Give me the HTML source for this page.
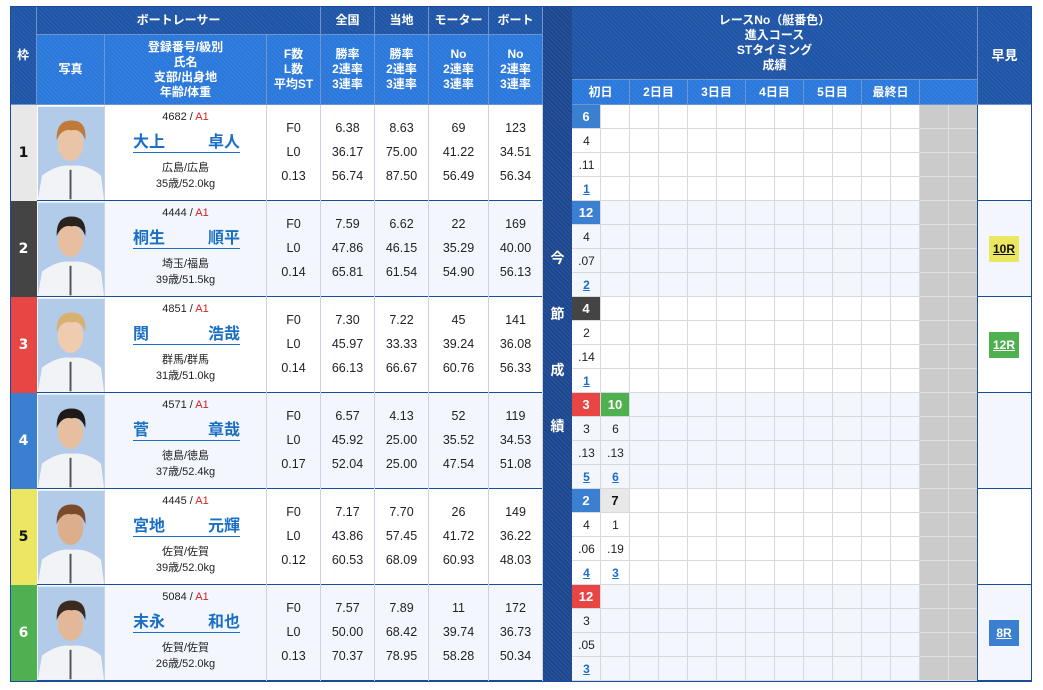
<!DOCTYPE html>
<html><head><meta charset="utf-8">
<style>
*{margin:0;padding:0;box-sizing:border-box}
body{width:1043px;height:690px;background:#fff;position:relative;overflow:hidden;font-family:"Liberation Sans","Noto Sans CJK JP",sans-serif;color:#222}
.a{position:absolute}
.hd{position:absolute;background:#1f55a6;background-image:repeating-linear-gradient(45deg,rgba(255,255,255,.06) 0 1px,transparent 1px 3px);color:#fff;font-weight:bold;font-size:12px;display:flex;align-items:center;justify-content:center;text-align:center;line-height:15px;border-right:1px solid #6f95cf;border-bottom:1px solid #6f95cf}
.hb{background-color:#2b78dc}
.row{position:absolute;left:10px;width:1022px;height:96px;border-bottom:1.5px solid #1b4c9a}
.w{position:absolute;top:0;height:96px;display:flex;align-items:center;justify-content:center;font-weight:bold;font-size:14px;font-family:"DejaVu Sans","Liberation Sans",sans-serif}
.st{position:absolute;top:0;height:96px;border-right:1px solid #c9d3e3;font-size:12.5px;text-align:center;padding-top:11px;line-height:24px}
.nm{position:absolute;top:0;left:95px;width:162px;height:96px;border-right:1px solid #c9d3e3;text-align:center}
.nm .n1{position:absolute;top:6px;width:100%;font-size:11px}
.nm .n2{position:absolute;top:28px;left:28px;width:107px;display:flex;justify-content:space-between;font-size:16px;font-weight:bold;color:#1a6fc4;line-height:19px;border-bottom:1.5px solid #1a6fc4}
.nm .n3{position:absolute;top:55px;width:100%;font-size:11px;line-height:16px}
.r{color:#d02020}
.grid{position:absolute;left:562px;top:0;width:406px;height:96px;background-image:repeating-linear-gradient(90deg,transparent 0 28px,#d6d9de 28px 29px),repeating-linear-gradient(180deg,transparent 0 23px,#d6d9de 23px 24px)}
.gr{position:absolute;left:910px;top:0;width:58px;height:96px;background:#cbcbcb;background-image:linear-gradient(90deg,transparent 28px,#e0e0e0 28px 29px,transparent 29px),repeating-linear-gradient(180deg,transparent 0 23px,#e0e0e0 23px 24px)}
.c{position:absolute;width:29px;height:24px;line-height:24px;text-align:center;font-size:12px}
.b{color:#fff;font-weight:bold;font-size:13px}
.lk{color:#1a6fc4;font-weight:bold;text-decoration:underline}
.hy{position:absolute;left:979px;top:35px;width:30px;height:26px;line-height:26px;text-align:center;font-size:12px;font-weight:bold;text-decoration:underline}
.ph{position:absolute;left:28px;top:1px;width:67px;height:94px;border-right:1px solid #c9d3e3}
</style></head><body>
<div class="hd" style="left:10px;top:6px;width:27px;height:99px">枠</div>
<div class="hd" style="left:37px;top:6px;width:284px;height:29px">ボートレーサー</div>
<div class="hd" style="left:321px;top:6px;width:54px;height:29px">全国</div>
<div class="hd" style="left:375px;top:6px;width:54px;height:29px">当地</div>
<div class="hd" style="left:429px;top:6px;width:60px;height:29px">モーター</div>
<div class="hd" style="left:489px;top:6px;width:54px;height:29px">ボート</div>
<div class="hd hb" style="left:37px;top:35px;width:68px;height:70px">写真</div>
<div class="hd hb" style="left:105px;top:35px;width:162px;height:70px">登録番号/級別<br>氏名<br>支部/出身地<br>年齢/体重</div>
<div class="hd hb" style="left:267px;top:35px;width:54px;height:70px">F数<br>L数<br>平均ST</div>
<div class="hd hb" style="left:321px;top:35px;width:54px;height:70px">勝率<br>2連率<br>3連率</div>
<div class="hd hb" style="left:375px;top:35px;width:54px;height:70px">勝率<br>2連率<br>3連率</div>
<div class="hd hb" style="left:429px;top:35px;width:60px;height:70px">No<br>2連率<br>3連率</div>
<div class="hd hb" style="left:489px;top:35px;width:54px;height:70px">No<br>2連率<br>3連率</div>
<div class="hd" style="left:572px;top:6px;width:406px;height:74px">レースNo（艇番色）<br>進入コース<br>STタイミング<br>成績</div>
<div class="hd hb" style="left:572px;top:80px;width:58px;height:25px">初日</div>
<div class="hd hb" style="left:630px;top:80px;width:58px;height:25px">2日目</div>
<div class="hd hb" style="left:688px;top:80px;width:58px;height:25px">3日目</div>
<div class="hd hb" style="left:746px;top:80px;width:58px;height:25px">4日目</div>
<div class="hd hb" style="left:804px;top:80px;width:58px;height:25px">5日目</div>
<div class="hd hb" style="left:862px;top:80px;width:58px;height:25px">最終日</div>
<div class="hd hb" style="left:920px;top:80px;width:58px;height:25px"></div>
<div class="hd" style="left:978px;top:6px;width:54px;height:99px;font-size:13px">早見</div>

<div class="row" style="top:105px;background:#fff">
 <div class="w" style="left:0;width:27px;background:#e8e8e8;color:#111">1</div>
 <svg class="ph" viewBox="0 0 67 94"><rect width="67" height="94" fill="#b2cbe9"/><path d="M0 94 L4 70 Q20 58 34 60 Q50 58 64 70 L67 94Z" fill="#f2f3f6"/><ellipse cx="33" cy="38" rx="13" ry="17" fill="#eac4a6"/><path d="M19 34 Q18 14 34 14 Q50 14 48 34 Q44 22 34 24 Q24 22 19 34Z" fill="#c07a3a"/><path d="M33 64 L33 94" stroke="#555" stroke-width="2"/></svg>
 <div class="nm"><div class="n1">4682 / <span class="r">A1</span></div><div class="n2"><span>大上</span><span>卓人</span></div><div class="n3">広島/広島<br>35歳/52.0kg</div></div>
 <div class="st" style="left:257px;width:54px">F0<br>L0<br>0.13</div>
 <div class="st" style="left:311px;width:54px">6.38<br>36.17<br>56.74</div>
 <div class="st" style="left:365px;width:54px">8.63<br>75.00<br>87.50</div>
 <div class="st" style="left:419px;width:60px">69<br>41.22<br>56.49</div>
 <div class="st" style="left:479px;width:54px">123<br>34.51<br>56.34</div>
 <div class="grid"></div><div class="gr"></div>
 <div class="c b" style="left:562px;top:0;width:28px;height:23px;background:#3b7fd0">6</div>
 <div class="c" style="left:562px;top:24px">4</div><div class="c" style="left:562px;top:48px">.11</div><div class="c lk" style="left:562px;top:72px">1</div>
</div>

<div class="row" style="top:201px;background:#f3f7fd">
 <div class="w" style="left:0;width:27px;background:#444;color:#fff">2</div>
 <svg class="ph" viewBox="0 0 67 94"><rect width="67" height="94" fill="#b2cbe9"/><path d="M0 94 L4 70 Q20 58 34 60 Q50 58 64 70 L67 94Z" fill="#f2f3f6"/><ellipse cx="33" cy="38" rx="13" ry="17" fill="#e6bfa0"/><path d="M19 34 Q18 14 34 14 Q50 14 48 34 Q44 22 34 24 Q24 22 19 34Z" fill="#2a221e"/><path d="M33 64 L33 94" stroke="#555" stroke-width="2"/></svg>
 <div class="nm"><div class="n1">4444 / <span class="r">A1</span></div><div class="n2"><span>桐生</span><span>順平</span></div><div class="n3">埼玉/福島<br>39歳/51.5kg</div></div>
 <div class="st" style="left:257px;width:54px">F0<br>L0<br>0.14</div>
 <div class="st" style="left:311px;width:54px">7.59<br>47.86<br>65.81</div>
 <div class="st" style="left:365px;width:54px">6.62<br>46.15<br>61.54</div>
 <div class="st" style="left:419px;width:60px">22<br>35.29<br>54.90</div>
 <div class="st" style="left:479px;width:54px">169<br>40.00<br>56.13</div>
 <div class="grid"></div><div class="gr"></div>
 <div class="c b" style="left:562px;top:0;width:28px;height:23px;background:#3b7fd0">12</div>
 <div class="c" style="left:562px;top:24px">4</div><div class="c" style="left:562px;top:48px">.07</div><div class="c lk" style="left:562px;top:72px">2</div>
 <div class="hy" style="background:#ebe760;color:#111">10R</div>
</div>

<div class="row" style="top:297px;background:#fff">
 <div class="w" style="left:0;width:27px;background:#e84545;color:#fff">3</div>
 <svg class="ph" viewBox="0 0 67 94"><rect width="67" height="94" fill="#b2cbe9"/><path d="M0 94 L4 70 Q20 58 34 60 Q50 58 64 70 L67 94Z" fill="#f2f3f6"/><ellipse cx="33" cy="38" rx="13" ry="17" fill="#efcbb0"/><path d="M19 34 Q18 14 34 14 Q50 14 48 34 Q44 22 34 24 Q24 22 19 34Z" fill="#d8b070"/><path d="M33 64 L33 94" stroke="#555" stroke-width="2"/></svg>
 <div class="nm"><div class="n1">4851 / <span class="r">A1</span></div><div class="n2"><span>関</span><span>浩哉</span></div><div class="n3">群馬/群馬<br>31歳/51.0kg</div></div>
 <div class="st" style="left:257px;width:54px">F0<br>L0<br>0.14</div>
 <div class="st" style="left:311px;width:54px">7.30<br>45.97<br>66.13</div>
 <div class="st" style="left:365px;width:54px">7.22<br>33.33<br>66.67</div>
 <div class="st" style="left:419px;width:60px">45<br>39.24<br>60.76</div>
 <div class="st" style="left:479px;width:54px">141<br>36.08<br>56.33</div>
 <div class="grid"></div><div class="gr"></div>
 <div class="c b" style="left:562px;top:0;width:28px;height:23px;background:#444">4</div>
 <div class="c" style="left:562px;top:24px">2</div><div class="c" style="left:562px;top:48px">.14</div><div class="c lk" style="left:562px;top:72px">1</div>
 <div class="hy" style="background:#4fb04f;color:#fff">12R</div>
</div>

<div class="row" style="top:393px;background:#f3f7fd">
 <div class="w" style="left:0;width:27px;background:#3b7fd0;color:#fff">4</div>
 <svg class="ph" viewBox="0 0 67 94"><rect width="67" height="94" fill="#b2cbe9"/><path d="M0 94 L4 70 Q20 58 34 60 Q50 58 64 70 L67 94Z" fill="#f2f3f6"/><ellipse cx="33" cy="38" rx="13" ry="17" fill="#e6bfa0"/><path d="M19 34 Q18 14 34 14 Q50 14 48 34 Q44 22 34 24 Q24 22 19 34Z" fill="#1e1a18"/><path d="M33 64 L33 94" stroke="#555" stroke-width="2"/></svg>
 <div class="nm"><div class="n1">4571 / <span class="r">A1</span></div><div class="n2"><span>菅</span><span>章哉</span></div><div class="n3">徳島/徳島<br>37歳/52.4kg</div></div>
 <div class="st" style="left:257px;width:54px">F0<br>L0<br>0.17</div>
 <div class="st" style="left:311px;width:54px">6.57<br>45.92<br>52.04</div>
 <div class="st" style="left:365px;width:54px">4.13<br>25.00<br>25.00</div>
 <div class="st" style="left:419px;width:60px">52<br>35.52<br>47.54</div>
 <div class="st" style="left:479px;width:54px">119<br>34.53<br>51.08</div>
 <div class="grid"></div><div class="gr"></div>
 <div class="c b" style="left:562px;top:0;width:28px;height:23px;background:#e84545">3</div>
 <div class="c" style="left:562px;top:24px">3</div><div class="c" style="left:562px;top:48px">.13</div><div class="c lk" style="left:562px;top:72px">5</div>
 <div class="c b" style="left:591px;top:0;width:28px;height:23px;background:#4fb04f">10</div>
 <div class="c" style="left:591px;top:24px">6</div><div class="c" style="left:591px;top:48px">.13</div><div class="c lk" style="left:591px;top:72px">6</div>
</div>

<div class="row" style="top:489px;background:#fff">
 <div class="w" style="left:0;width:27px;background:#ebe760;color:#111">5</div>
 <svg class="ph" viewBox="0 0 67 94"><rect width="67" height="94" fill="#b2cbe9"/><path d="M0 94 L4 70 Q20 58 34 60 Q50 58 64 70 L67 94Z" fill="#f2f3f6"/><ellipse cx="33" cy="38" rx="13" ry="17" fill="#dcae8c"/><path d="M19 34 Q18 14 34 14 Q50 14 48 34 Q44 22 34 24 Q24 22 19 34Z" fill="#7a4a2a"/><path d="M33 64 L33 94" stroke="#555" stroke-width="2"/></svg>
 <div class="nm"><div class="n1">4445 / <span class="r">A1</span></div><div class="n2"><span>宮地</span><span>元輝</span></div><div class="n3">佐賀/佐賀<br>39歳/52.0kg</div></div>
 <div class="st" style="left:257px;width:54px">F0<br>L0<br>0.12</div>
 <div class="st" style="left:311px;width:54px">7.17<br>43.86<br>60.53</div>
 <div class="st" style="left:365px;width:54px">7.70<br>57.45<br>68.09</div>
 <div class="st" style="left:419px;width:60px">26<br>41.72<br>60.93</div>
 <div class="st" style="left:479px;width:54px">149<br>36.22<br>48.03</div>
 <div class="grid"></div><div class="gr"></div>
 <div class="c b" style="left:562px;top:0;width:28px;height:23px;background:#3b7fd0">2</div>
 <div class="c" style="left:562px;top:24px">4</div><div class="c" style="left:562px;top:48px">.06</div><div class="c lk" style="left:562px;top:72px">4</div>
 <div class="c b" style="left:591px;top:0;width:28px;height:23px;background:#e8e8e8;color:#111">7</div>
 <div class="c" style="left:591px;top:24px">1</div><div class="c" style="left:591px;top:48px">.19</div><div class="c lk" style="left:591px;top:72px">3</div>
</div>

<div class="row" style="top:585px;background:#f3f7fd">
 <div class="w" style="left:0;width:27px;background:#4fb04f;color:#fff">6</div>
 <svg class="ph" viewBox="0 0 67 94"><rect width="67" height="94" fill="#b2cbe9"/><path d="M0 94 L4 70 Q20 58 34 60 Q50 58 64 70 L67 94Z" fill="#f2f3f6"/><ellipse cx="33" cy="38" rx="13" ry="17" fill="#e3b898"/><path d="M19 34 Q18 14 34 14 Q50 14 48 34 Q44 22 34 24 Q24 22 19 34Z" fill="#3a2a20"/><path d="M33 64 L33 94" stroke="#555" stroke-width="2"/></svg>
 <div class="nm"><div class="n1">5084 / <span class="r">A1</span></div><div class="n2"><span>末永</span><span>和也</span></div><div class="n3">佐賀/佐賀<br>26歳/52.0kg</div></div>
 <div class="st" style="left:257px;width:54px">F0<br>L0<br>0.13</div>
 <div class="st" style="left:311px;width:54px">7.57<br>50.00<br>70.37</div>
 <div class="st" style="left:365px;width:54px">7.89<br>68.42<br>78.95</div>
 <div class="st" style="left:419px;width:60px">11<br>39.74<br>58.28</div>
 <div class="st" style="left:479px;width:54px">172<br>36.73<br>50.34</div>
 <div class="grid"></div><div class="gr"></div>
 <div class="c b" style="left:562px;top:0;width:28px;height:23px;background:#e84545">12</div>
 <div class="c" style="left:562px;top:24px">3</div><div class="c" style="left:562px;top:48px">.05</div><div class="c lk" style="left:562px;top:72px">3</div>
 <div class="hy" style="background:#3b7fd0;color:#fff">8R</div>
</div>

<div class="a" style="left:543px;top:6px;width:29px;height:675px;background:#1c4690;background-image:repeating-linear-gradient(45deg,rgba(255,255,255,.08) 0 1px,transparent 1px 3px);color:#fff;font-weight:bold;font-size:14px;text-align:center">
 <div class="a" style="top:242px;width:29px">今</div>
 <div class="a" style="top:298px;width:29px">節</div>
 <div class="a" style="top:354px;width:29px">成</div>
 <div class="a" style="top:410px;width:29px">績</div>
</div>
<div class="a" style="left:10px;top:6px;width:1022px;height:676px;border:1.5px solid #1b4c9a"></div>
<div class="a" style="left:977px;top:105px;width:1px;height:576px;background:#1b4c9a"></div>
</body></html>
